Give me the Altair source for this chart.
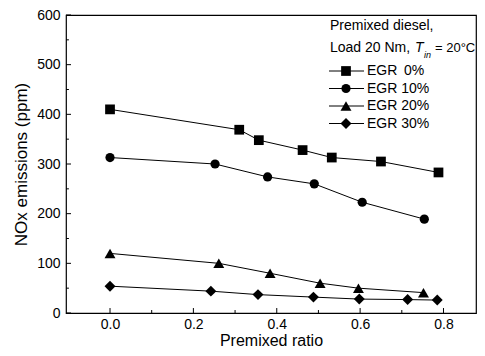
import altair as alt
import pandas as pd

# ---- data ----
series = ["EGR\u00a0\u20090%", "EGR 10%", "EGR 20%", "EGR 30%"]
shapes = ["square", "circle", "triangle-up", "diamond"]
sizes = [95, 85, 120, 120]

x_egr0 = [0.0, 0.31, 0.357, 0.462, 0.532, 0.65, 0.788]
y_egr0 = [410, 369, 348, 328, 313, 305, 283]
x_egr10 = [0.0, 0.252, 0.378, 0.49, 0.605, 0.754]
y_egr10 = [313, 300, 274, 260, 223, 189]
x_egr20 = [0.0, 0.261, 0.384, 0.504, 0.596, 0.752]
y_egr20 = [120, 100, 80, 60, 50, 41]
x_egr30 = [0.0, 0.242, 0.355, 0.488, 0.598, 0.714, 0.785]
y_egr30 = [54, 44, 37, 32, 28, 27, 26]

x_major = [0.0, 0.2, 0.4, 0.6, 0.8]
x_minor = [0.1, 0.3, 0.5, 0.7]
y_major = [0, 100, 200, 300, 400, 500, 600]
y_minor = [50, 150, 250, 350, 450, 550]

FONT = "Liberation Sans"
W, H = 410, 298

xs_all = [x_egr0, x_egr10, x_egr20, x_egr30]
ys_all = [y_egr0, y_egr10, y_egr20, y_egr30]

xscale = alt.Scale(domain=[-0.1056, 0.878], nice=False, zero=False)
yscale = alt.Scale(domain=[0, 600], nice=False, zero=False)

xaxis = alt.Axis(values=x_major, format=".1f", ticks=False, domain=False, grid=False,
                 labelFontSize=14, labelFont=FONT, labelColor="black", labelPadding=4,
                 title="Premixed ratio", titleFont=FONT, titleFontSize=16,
                 titleFontWeight="normal", titleColor="black", titlePadding=1)
yaxis = alt.Axis(values=y_major, ticks=False, domain=False, grid=False,
                 labelFontSize=14, labelFont=FONT, labelColor="black", labelPadding=6,
                 title="NOx emissions (ppm)", titleFont=FONT, titleFontSize=17,
                 titleFontWeight="normal", titleColor="black", titlePadding=6)

layers = []
for i, name in enumerate(series):
    d = pd.DataFrame({"x": xs_all[i], "y": ys_all[i], "series": name})
    enc_x = alt.X("x:Q", scale=xscale, axis=xaxis)
    enc_y = alt.Y("y:Q", scale=yscale, axis=yaxis)
    layers.append(alt.Chart(d).mark_line(color="black", strokeWidth=1).encode(x=enc_x, y=enc_y))
    layers.append(alt.Chart(d).mark_point(shape=shapes[i], size=sizes[i], filled=True,
                                          color="black", opacity=1).encode(x=enc_x, y=enc_y))

# inward ticks
xt = pd.DataFrame({"x": x_major + x_minor,
                   "y0": [0] * (len(x_major) + len(x_minor)),
                   "y1": [10] * len(x_major) + [6] * len(x_minor)})
layers.append(alt.Chart(xt).mark_rule(color="black", strokeWidth=1).encode(
    x=alt.X("x:Q", scale=xscale, axis=xaxis), y=alt.Y("y0:Q", scale=yscale, axis=yaxis), y2="y1:Q"))
yt = pd.DataFrame({"y": y_major + y_minor,
                   "x0": [-0.1056] * (len(y_major) + len(y_minor)),
                   "x1": [-0.0936] * len(y_major) + [-0.0986] * len(y_minor)})
layers.append(alt.Chart(yt).mark_rule(color="black", strokeWidth=1).encode(
    y=alt.Y("y:Q", scale=yscale, axis=yaxis), x=alt.X("x0:Q", scale=xscale, axis=xaxis), x2="x1:Q"))

# legend block
one = pd.DataFrame({"a": [0]})
def txt(s, x, y, size=14, style="normal"):
    return alt.Chart(one).mark_text(text=s, font=FONT, fontSize=size, fontStyle=style,
                                    align="left", baseline="middle", color="black").encode(
        x=alt.value(x), y=alt.value(y))

layers.append(txt("Premixed diesel,", 264, 11))
layers.append(txt("Load 20 Nm,", 264, 33))
layers.append(txt("T", 349, 33, style="italic"))
layers.append(txt("in", 358, 40, size=9, style="italic"))
layers.append(txt("= 20°C", 369, 33, size=13))
leg_y = [56, 73.5, 91, 108.5]
for i, name in enumerate(series):
    layers.append(alt.Chart(one).mark_rule(color="black", strokeWidth=1).encode(
        x=alt.value(263), x2=alt.value(298), y=alt.value(leg_y[i])))
    layers.append(alt.Chart(one).mark_point(shape=shapes[i], size=sizes[i], filled=True,
                                            color="black", opacity=1).encode(
        x=alt.value(280), y=alt.value(leg_y[i])))
    layers.append(txt(name, 301, leg_y[i]))

chart = alt.layer(*layers).properties(
    width=W, height=H,
    background="white",
    autosize=alt.AutoSizeParams(type="none"),
    padding={"left": 58, "top": 7, "right": 1, "bottom": 35},
).configure_view(stroke="black", strokeWidth=1.2)

chart.save("out.html", embed_options={"renderer": "svg", "actions": False})
